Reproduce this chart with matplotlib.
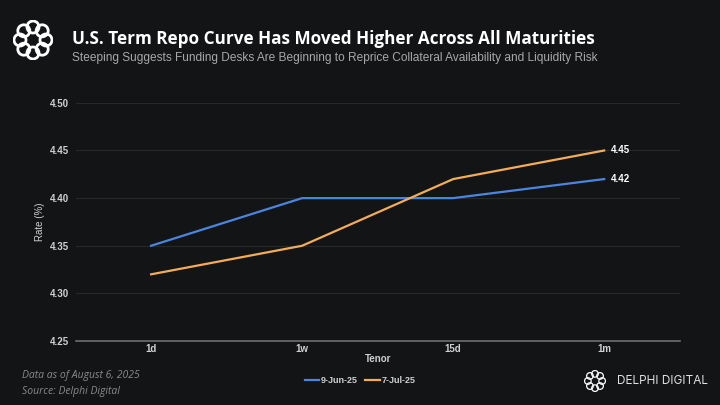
import matplotlib.pyplot as plt
from matplotlib.patches import Circle
import numpy as np

# data
tenors = ['1d', '1w', '15d', '1m']
jun_9 = [4.35, 4.40, 4.40, 4.42]
jul_7 = [4.32, 4.35, 4.42, 4.45]
series_labels = ['9-Jun-25', '7-Jul-25']
y_ticks = [4.25, 4.30, 4.35, 4.40, 4.45, 4.50]

BG = '#131416'
BLUE = '#4a86e0'
ORANGE = '#f4ad55'
GRID = '#26282b'
TXT = '#d0d0d0'

plt.rcParams['font.family'] = ['Liberation Sans', 'DejaVu Sans']

fig = plt.figure(figsize=(7.2, 4.05), dpi=100, facecolor=BG)
ax = fig.add_axes([0.105, 0.158, 0.839, 0.588], facecolor=BG)

x = np.arange(len(tenors))
ax.plot(x, jun_9, color=BLUE, lw=1.6, label=series_labels[0])
ax.plot(x, jul_7, color=ORANGE, lw=1.6, label=series_labels[1])

# end labels
ax.text(x[-1] + 0.045, jul_7[-1], f'{jul_7[-1]:.2f}', color='white', fontsize=7,
        fontweight='bold', va='center', ha='left')
ax.text(x[-1] + 0.045, jun_9[-1], f'{jun_9[-1]:.2f}', color='white', fontsize=7,
        fontweight='bold', va='center', ha='left')

ax.set_xlim(-0.5, len(tenors) - 0.5)
ax.set_ylim(4.25, 4.50)
ax.set_xticks(x)
ax.set_xticklabels(tenors)
ax.set_yticks(y_ticks)
ax.set_yticklabels([f'{v:.2f}' for v in y_ticks])
ax.tick_params(colors=TXT, labelsize=7, length=0)
ax.tick_params(axis='y', pad=5)
ax.tick_params(axis='x', pad=2)
for lab in ax.get_xticklabels() + ax.get_yticklabels():
    lab.set_fontweight('bold')

ax.grid(axis='y', color=GRID, lw=0.8)
ax.set_axisbelow(True)
for s in ['top', 'right', 'left']:
    ax.spines[s].set_visible(False)
ax.spines['bottom'].set_color('#6b6d70')
ax.spines['bottom'].set_linewidth(1.2)

ax.set_xlabel('Tenor', color=TXT, fontsize=7, fontweight='bold', labelpad=0)
ax.set_ylabel('Rate (%)', color=TXT, fontsize=7, labelpad=3)

leg = fig.legend(loc='center', bbox_to_anchor=(0.5, 0.06), ncol=2, frameon=False,
                 fontsize=6.5, handlelength=1.6, handletextpad=0.2, columnspacing=0.8)
for t in leg.get_texts():
    t.set_color(TXT)
    t.set_fontweight('bold')

# header
fig.text(0.1, 0.903, 'U.S. Term Repo Curve Has Moved Higher Across All Maturities',
         color='white', fontsize=12.3, fontweight='bold',
         family=['Open Sans', 'DejaVu Sans'],
         va='center', ha='left')
fig.text(0.1, 0.858, 'Steeping Suggests Funding Desks Are Beginning to Reprice Collateral Availability and Liquidity Risk',
         color='#a8a8a8', fontsize=8.6, va='center', ha='left')

# footer
fig.text(0.03, 0.073, 'Data as of August 6, 2025', color='#8a8a8a', fontsize=7.5,
         style='italic', family=['Open Sans', 'DejaVu Sans'], va='center')
fig.text(0.03, 0.033, 'Source: Delphi Digital', color='#8a8a8a', fontsize=7.5,
         style='italic', family=['Open Sans', 'DejaVu Sans'], va='center')
fig.text(0.857, 0.06, 'DELPHI DIGITAL', color='#e0e0e0', fontsize=8.5,
         family=['Inter', 'DejaVu Sans'], va='center', ha='left')


# ring logos
def ring_logo(cx, cy, r, rr, lw):
    lax = fig.add_axes([cx - r, cy - r * 720 / 405, 2 * r, 2 * r * 720 / 405])
    lax.set_xlim(-1, 1)
    lax.set_ylim(-1, 1)
    lax.set_aspect('equal')
    lax.axis('off')
    for k in range(8):
        a = 2 * np.pi * k / 8
        lax.add_patch(Circle((rr * np.cos(a), rr * np.sin(a)), 1 - rr - 0.05,
                             fill=False, ec='white', lw=lw))


ring_logo(33 / 720, 1 - 40 / 405, 20 / 720, 0.65, 2.0)
ring_logo(595 / 720, 1 - 381 / 405, 11 / 720, 0.65, 0.9)

fig.savefig('out.png', dpi=100, facecolor=BG)
